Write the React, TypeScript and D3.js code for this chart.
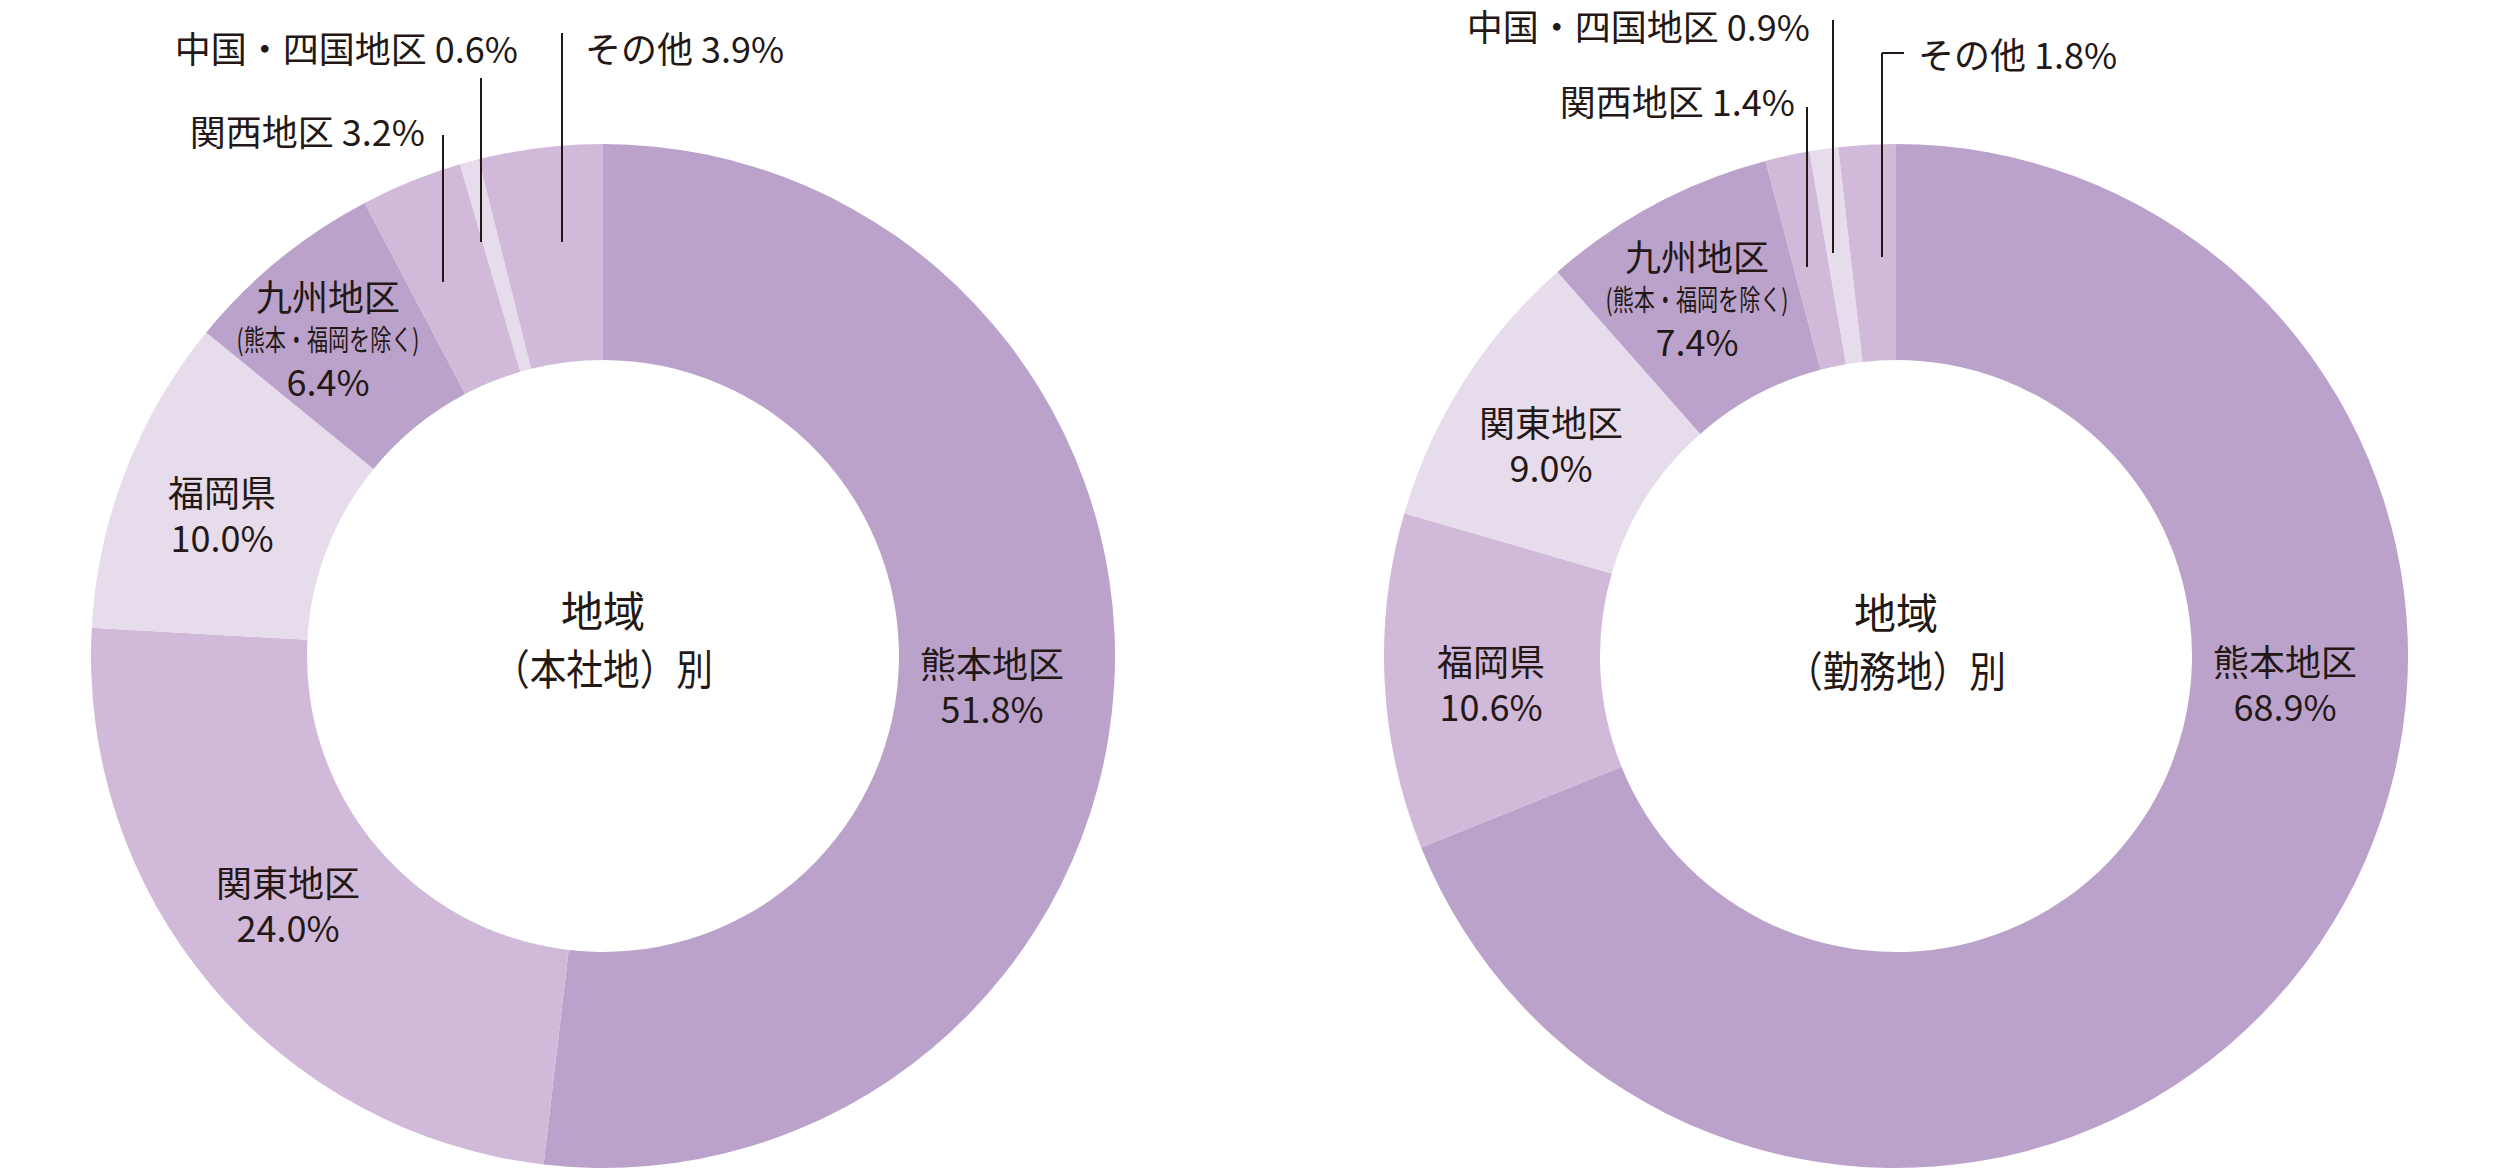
import React from "react";
import * as d3 from "d3";

// ---- data ----
const leftCategories = ["熊本地区", "関東地区", "福岡県", "九州地区", "関西地区", "中国・四国地区", "その他"];
const leftValues = [51.8, 24.0, 10.0, 6.4, 3.2, 0.6, 3.9];
const rightCategories = ["熊本地区", "福岡県", "関東地区", "九州地区", "関西地区", "中国・四国地区", "その他"];
const rightValues = [68.9, 10.6, 9.0, 7.4, 1.4, 0.9, 1.8];
const shadeOrder = ["dark", "medium", "light", "dark", "medium", "light", "medium"];
const leftTitle = ["地域", "（本社地）別"];
const rightTitle = ["地域", "（勤務地）別"];
const subNote = "(熊本・福岡を除く)";

// ---- styles / layout ----
const W = 2500;
const H = 1175;
const OUTER = 512;
const INNER = 296;
const CY = 656;
const shadeColor: Record<string, string> = { dark: "#bba2cb", medium: "#d1b9d9", light: "#e7dcec" };
const TEXT = "#231815";
const FONT = "'Noto Sans CJK JP', 'Noto Sans', sans-serif";
const LABEL_SIZE = 36;

type Inside = { idx: number; x: number; y: number; note?: boolean };
type Outside = { idx: number; tx: number; ty: number; anchor: string; lx: number; ly1: number; ly2: number; hx?: number };

const charts = [
  {
    cx: 603,
    cats: leftCategories,
    vals: leftValues,
    title: leftTitle,
    titleY: [608, 666],
    inside: [
      { idx: 0, x: 992, y: 662 },
      { idx: 1, x: 288, y: 881 },
      { idx: 2, x: 222, y: 491 },
      { idx: 3, x: 328, y: 295, note: true },
    ] as Inside[],
    outside: [
      { idx: 4, tx: 425, ty: 130, anchor: "end", lx: 443, ly1: 135, ly2: 282 },
      { idx: 5, tx: 518, ty: 47, anchor: "end", lx: 481, ly1: 78, ly2: 242 },
      { idx: 6, tx: 585, ty: 47, anchor: "start", lx: 562, ly1: 33, ly2: 242 },
    ] as Outside[],
  },
  {
    cx: 1896,
    cats: rightCategories,
    vals: rightValues,
    title: rightTitle,
    titleY: [610, 668],
    inside: [
      { idx: 0, x: 2285, y: 660 },
      { idx: 1, x: 1491, y: 660 },
      { idx: 2, x: 1551, y: 421 },
      { idx: 3, x: 1697, y: 255, note: true },
    ] as Inside[],
    outside: [
      { idx: 4, tx: 1795, ty: 100, anchor: "end", lx: 1807, ly1: 107, ly2: 267 },
      { idx: 5, tx: 1810, ty: 25, anchor: "end", lx: 1833, ly1: 20, ly2: 253 },
      { idx: 6, tx: 1918, ty: 53, anchor: "start", lx: 1882, ly1: 53, ly2: 257, hx: 1904 },
    ] as Outside[],
  },
];

const fmt = d3.format(".1f");

function Donut({ c }: { c: (typeof charts)[number] }) {
  const pie = d3.pie<number>().sort(null).value((d) => d);
  const arcs = pie(c.vals);
  const arc = d3.arc<d3.PieArcDatum<number>>().innerRadius(INNER).outerRadius(OUTER);
  return (
    <g>
      <g transform={`translate(${c.cx},${CY})`}>
        {arcs.map((a, i) => (
          <path key={i} d={arc(a) || ""} fill={shadeColor[shadeOrder[i]]} />
        ))}
      </g>
      <text
        textAnchor="middle"
        dominantBaseline="central"
        fontSize={42}
        fontWeight={400}
        fill={TEXT}
        fontFamily={FONT}
      >
        <tspan x={c.cx} y={c.titleY[0]}>{c.title[0]}</tspan>
        <tspan x={c.cx} y={c.titleY[1]} textLength={220} lengthAdjust="spacingAndGlyphs">{c.title[1]}</tspan>
      </text>
      {c.inside.map((l) => {
        const pct = `${fmt(c.vals[l.idx])}%`;
        return (
          <text key={l.idx} fill={TEXT} fontFamily={FONT} textAnchor="middle" dominantBaseline="central" fontSize={LABEL_SIZE}>
            <tspan x={l.x} y={l.y}>{c.cats[l.idx]}</tspan>
            {l.note ? (
              <>
                <tspan x={l.x} y={l.y + 43} fontSize={29} textLength={183} lengthAdjust="spacingAndGlyphs">
                  {subNote}
                </tspan>
                <tspan x={l.x} y={l.y + 85}>{pct}</tspan>
              </>
            ) : (
              <tspan x={l.x} y={l.y + 45}>{pct}</tspan>
            )}
          </text>
        );
      })}
      {c.outside.map((l) => (
        <g key={l.idx}>
          <text
            x={l.tx}
            y={l.ty}
            textAnchor={l.anchor as any}
            dominantBaseline="central"
            fontSize={LABEL_SIZE}
            fill={TEXT}
            fontFamily={FONT}
          >
            {`${c.cats[l.idx]} ${fmt(c.vals[l.idx])}%`}
          </text>
          <line x1={l.lx} x2={l.lx} y1={l.ly1} y2={l.ly2} stroke={TEXT} strokeWidth={2} />
          {l.hx !== undefined && <line x1={l.lx} x2={l.hx} y1={l.ly1} y2={l.ly1} stroke={TEXT} strokeWidth={2} />}
        </g>
      ))}
    </g>
  );
}

export default function App() {
  return (
    <svg width={W} height={H} style={{ position: "absolute", left: 0, top: 0, background: "#fff" }}>
      <rect width={W} height={H} fill="#fff" />
      {charts.map((c, i) => (
        <Donut key={i} c={c} />
      ))}
    </svg>
  );
}
